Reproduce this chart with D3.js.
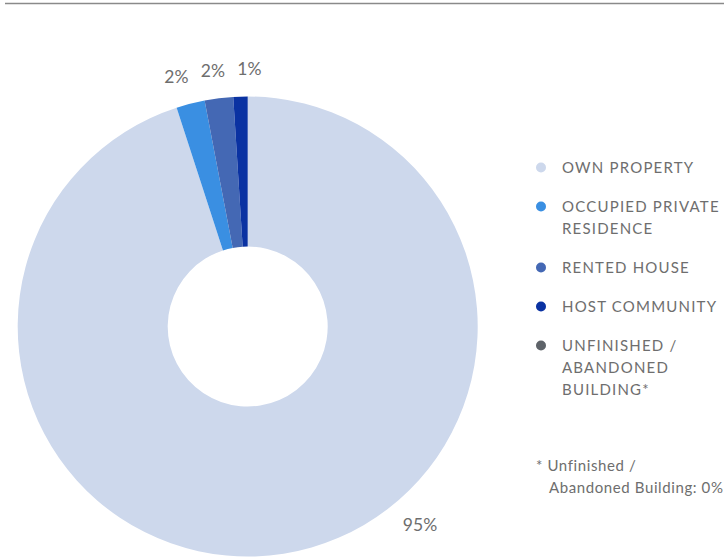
<!DOCTYPE html>
<html>
<head>
<meta charset="utf-8">
<script src="https://cdn.jsdelivr.net/npm/d3@7/dist/d3.min.js"></script>
<style>
  html, body { margin: 0; padding: 0; background: #fff; }
  svg { display: block; font-family: Lato, "Open Sans", sans-serif; }
</style>
</head>
<body>
<svg id="chart" width="728" height="558"></svg>
<script>
// Shelter types and their shares (%)
const categories = ["OWN PROPERTY", "OCCUPIED PRIVATE RESIDENCE", "RENTED HOUSE", "HOST COMMUNITY", "UNFINISHED / ABANDONED BUILDING*"];
const legendLines = [["OWN PROPERTY"], ["OCCUPIED PRIVATE", "RESIDENCE"], ["RENTED HOUSE"], ["HOST COMMUNITY"], ["UNFINISHED /", "ABANDONED", "BUILDING*"]];
const values = [95, 2, 2, 1, 0];
const colors = ["#cdd8ec", "#3a8fe2", "#4468b4", "#0a32a2", "#5e6369"];
const footnote = ["* Unfinished /", "Abandoned Building: 0%"];

const svg = d3.select("#chart");
const textColor = "#6e6e6e";

// top rule
svg.append("line")
  .attr("x1", 5).attr("x2", 724).attr("y1", 3.5).attr("y2", 3.5)
  .attr("stroke", "#8a8a8a").attr("stroke-width", 1.5);

const cx = 247.7, cy = 326.5, outerR = 230, innerR = 80, labelR = 258;

const pie = d3.pie().sort(null).value(d => d)(values);
const arc = d3.arc().innerRadius(innerR).outerRadius(outerR);

const g = svg.append("g").attr("transform", `translate(${cx},${cy})`);

g.selectAll("path.slice")
  .data(pie)
  .join("path")
  .attr("class", "slice")
  .attr("d", arc)
  .attr("fill", (d, i) => colors[i]);

// value labels just outside the ring; the dominant slice gets its label
// part way along its arc rather than at the middle
const isBig = d => d.endAngle - d.startAngle > Math.PI;
function labelAngle(d) {
  const span = d.endAngle - d.startAngle;
  return isBig(d) ? d.startAngle + span * 0.4066 : (d.startAngle + d.endAngle) / 2;
}
const labels = pie.filter(d => d.value > 0).map(d => {
  const a = labelAngle(d), r = isBig(d) ? labelR + 5 : labelR;
  return { d, x: r * Math.sin(a), y: -r * Math.cos(a) };
});

// spread the crowded small-slice labels so they keep a minimum gap
const small = labels.filter(l => !isBig(l.d)).sort((a, b) => a.x - b.x);
const gap = 36.5;
if (small.length > 1) {
  const mean = d3.mean(small, l => l.x);
  const needed = gap * (small.length - 1);
  const span = small[small.length - 1].x - small[0].x;
  if (span < needed) {
    small.forEach((l, i) => { l.x = mean - needed / 2 + i * gap; });
  }
}

g.selectAll("text.val")
  .data(labels)
  .join("text")
  .attr("class", "val")
  .attr("x", l => l.x)
  .attr("y", l => l.y)
  .attr("dy", "0.35em")
  .attr("text-anchor", "middle")
  .attr("fill", textColor)
  .attr("font-size", 17.5)
  .text(l => l.d.value + "%");

// legend
const legend = svg.append("g");
let y = 167.5;
legendLines.forEach((lines, i) => {
  const item = legend.append("g");
  item.append("circle")
    .attr("cx", 541).attr("cy", y).attr("r", 5)
    .attr("fill", colors[i]);
  lines.forEach((t, j) => {
    item.append("text")
      .attr("x", 562).attr("y", y + j * 22)
      .attr("dy", "0.35em")
      .attr("fill", textColor)
      .attr("font-size", 15)
      .attr("letter-spacing", 1.2)
      .text(t);
  });
  y += lines.length * 22 + 17;
});

// footnote
svg.append("text")
  .attr("x", 536).attr("y", 466).attr("dy", "0.35em")
  .attr("fill", textColor).attr("font-size", 15).attr("letter-spacing", 0.6)
  .text(footnote[0]);
svg.append("text")
  .attr("x", 549).attr("y", 488).attr("dy", "0.35em")
  .attr("fill", textColor).attr("font-size", 15).attr("letter-spacing", 0.6)
  .text(footnote[1]);
</script>
</body>
</html>
